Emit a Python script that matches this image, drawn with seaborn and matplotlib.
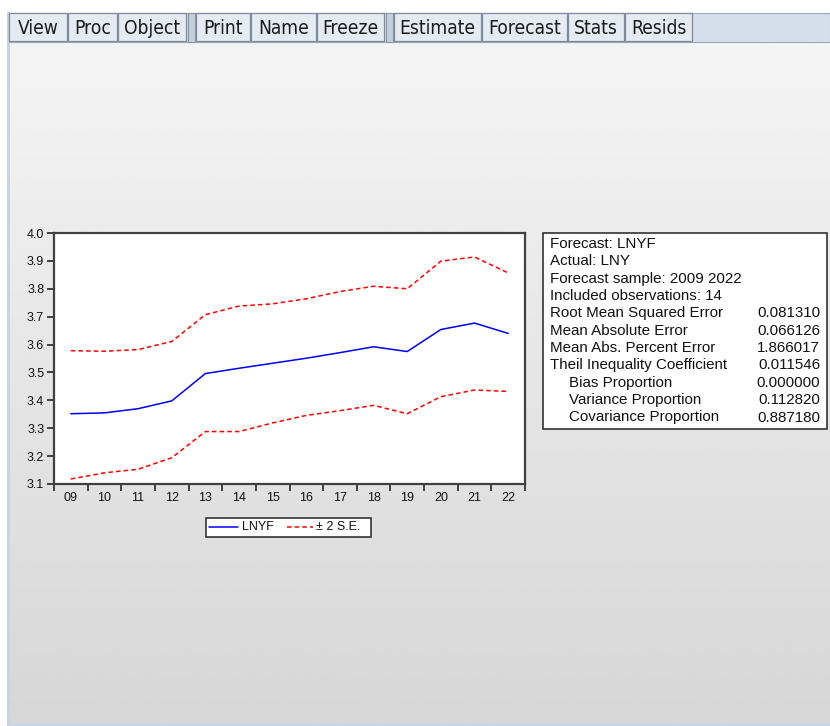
import numpy as np
import pandas as pd
import matplotlib
matplotlib.use('Agg')
import matplotlib.pyplot as plt
import seaborn as sns
from matplotlib.patches import Rectangle
from matplotlib.lines import Line2D

# forecast 2009-2022
years = ['09', '10', '11', '12', '13', '14', '15', '16', '17', '18', '19', '20', '21', '22']
lnyf = [3.352, 3.355, 3.370, 3.398, 3.496, 3.515, 3.533, 3.551, 3.571, 3.592, 3.575, 3.654, 3.677, 3.640]
upper = [3.578, 3.576, 3.582, 3.611, 3.707, 3.738, 3.746, 3.764, 3.790, 3.809, 3.800, 3.899, 3.914, 3.857]
lower = [3.118, 3.140, 3.153, 3.194, 3.288, 3.288, 3.319, 3.346, 3.363, 3.382, 3.352, 3.413, 3.437, 3.432]

stat_names = ['Root Mean Squared Error', 'Mean Absolute Error', 'Mean Abs. Percent Error',
              'Theil Inequality Coefficient', '   Bias Proportion', '   Variance Proportion',
              '   Covariance Proportion']
stat_vals = ['0.081310', '0.066126', '1.866017', '0.011546', '0.000000', '0.112820', '0.887180']
header = ['Forecast: LNYF', 'Actual: LNY', 'Forecast sample: 2009 2022', 'Included observations: 14']

buttons = [('View', 9, 67), ('Proc', 68, 117), ('Object', 118, 186),
           ('Print', 196, 250), ('Name', 251, 316), ('Freeze', 317, 384),
           ('Estimate', 394, 481), ('Forecast', 482, 567), ('Stats', 568, 624), ('Resids', 625, 692)]

sns.set_style('white')
plt.rcParams['font.family'] = ['Liberation Sans', 'DejaVu Sans']

W, H = 830, 726
fig = plt.figure(figsize=(W / 100, H / 100), dpi=100)

# window background drawn in pixel coords
bg = fig.add_axes([0, 0, 1, 1], zorder=0)
bg.set_xlim(0, W)
bg.set_ylim(H, 0)
bg.axis('off')
grad = np.linspace(0.957, 0.84, 256).reshape(-1, 1)
bg.imshow(grad, cmap='gray', vmin=0, vmax=1, extent=(9, W, H - 2, 42), aspect='auto')
bg.add_patch(Rectangle((7, 12), 3, H - 12, color='#c6d4e8', lw=0))
bg.add_patch(Rectangle((7, H - 2), W, 2, color='#c6d4e8', lw=0))

# toolbar
bg.add_patch(Rectangle((9, 13), W - 9, 29, facecolor='#d5dfeb', edgecolor='#9aa8b8', lw=0.8))
for sx in (188, 386):
    bg.add_patch(Rectangle((sx, 13), 7, 29, facecolor='#c4cfdc', edgecolor='#8795a6', lw=0.8))
for name, x0, x1 in buttons:
    bg.add_patch(Rectangle((x0, 13), x1 - x0, 28, facecolor='#e6ebf2', edgecolor='#7d8a9b', lw=0.9))
    bg.text((x0 + x1) / 2, 28, name, ha='center', va='center', fontsize=13.8,
            family=['DejaVu Sans'], fontstretch='condensed', color='#1a1a1a')

# chart
ax = fig.add_axes([54 / W, (H - 484) / H, 471 / W, 251 / H], zorder=2)
x = np.arange(len(years))
df = pd.DataFrame({'x': x, 'LNYF': lnyf, 'upper': upper, 'lower': lower})
sns.lineplot(data=df, x='x', y='LNYF', ax=ax, color='#0000ff', lw=1.1)
sns.lineplot(data=df, x='x', y='upper', ax=ax, color='#ff0000', lw=1.1, dashes=False, linestyle=(0, (3, 2)))
sns.lineplot(data=df, x='x', y='lower', ax=ax, color='#ff0000', lw=1.1, dashes=False, linestyle=(0, (3, 2)))

ax.set_facecolor('white')
ax.set_xlim(-0.5, len(years) - 0.5)
ax.set_ylim(3.1, 4.0)
ax.set_yticks(np.round(np.arange(3.1, 4.01, 0.1), 1))
ax.set_yticklabels([f'{v:.1f}' for v in np.arange(3.1, 4.01, 0.1)])
ax.set_xticks(np.arange(-0.5, len(years), 1.0))
ax.set_xticklabels([])
ax.set_xticks(x, minor=True)
ax.set_xticklabels(years, minor=True)
ax.tick_params(axis='x', which='major', direction='out', length=5, width=1.3, color='#333333', bottom=True)
ax.tick_params(axis='x', which='minor', length=0, pad=6, labelsize=9, labelcolor='#111111')
ax.tick_params(axis='y', direction='out', length=5, width=1.3, color='#333333', left=True,
               labelsize=9, labelcolor='#111111', pad=2)
ax.set_xlabel('')
ax.set_ylabel('')
for s in ax.spines.values():
    s.set_visible(True)
    s.set_color('#404040')
    s.set_linewidth(1.6)

# legend box
bg.add_patch(Rectangle((206, 517.5), 165, 19, facecolor='white', edgecolor='#333333', lw=1.2, zorder=3))
bg.add_line(Line2D([209, 238], [527, 527], color='#0000ff', lw=1.1, zorder=4))
bg.text(242, 527.5, 'LNYF', fontsize=9, va='center', ha='left', color='#111111', zorder=4)
bg.add_line(Line2D([287, 313], [527, 527], color='#ff0000', lw=1.1, ls=(0, (3, 2)), zorder=4))
bg.text(316, 527.5, '\u00b1 2 S.E.', fontsize=9, va='center', ha='left', color='#111111', zorder=4)

# statistics box
bg.add_patch(Rectangle((542.5, 233), 284, 196, facecolor='white', edgecolor='#333333', lw=1.2, zorder=3))
lines = [(h, '') for h in header] + list(zip(stat_names, stat_vals))
for i, (lab, val) in enumerate(lines):
    yy = 244 + i * 17.35
    indent = 19 if lab.startswith('   ') else 0
    bg.text(550 + indent, yy, lab.strip(), fontsize=10.9, va='center', ha='left', color='#111111', zorder=4)
    if val:
        bg.text(820, yy, val, fontsize=10.9, va='center', ha='right', color='#111111', zorder=4)

fig.savefig('out.png', dpi=100)
